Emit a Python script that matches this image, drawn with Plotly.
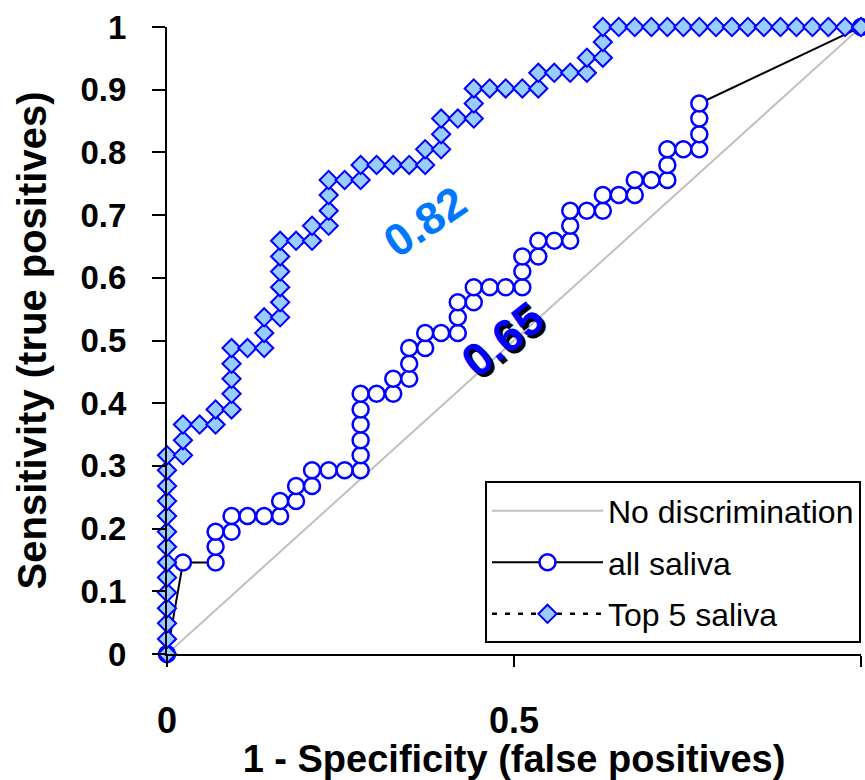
import plotly.graph_objects as go

# ---- data ----
diag_x = [0, 1]
diag_y = [0, 1]

all_fpr = [0.000, 0.023, 0.070, 0.070, 0.070, 0.093, 0.093, 0.116, 0.140, 0.163, 0.163,
           0.186, 0.186, 0.209, 0.209, 0.233, 0.256, 0.279, 0.279, 0.279, 0.279, 0.279,
           0.279, 0.302, 0.326, 0.326, 0.349, 0.349, 0.349, 0.372, 0.372, 0.395, 0.419,
           0.419, 0.419, 0.442, 0.442, 0.465, 0.488, 0.512, 0.512, 0.512, 0.535, 0.535,
           0.558, 0.581, 0.581, 0.581, 0.605, 0.628, 0.628, 0.651, 0.674, 0.674, 0.698,
           0.721, 0.721, 0.721, 0.744, 0.767, 0.767, 0.767, 0.767, 1.000]
all_tpr = [0.000, 0.146, 0.146, 0.171, 0.195, 0.195, 0.220, 0.220, 0.220, 0.220, 0.244,
           0.244, 0.268, 0.268, 0.293, 0.293, 0.293, 0.293, 0.317, 0.341, 0.366, 0.390,
           0.415, 0.415, 0.415, 0.439, 0.439, 0.463, 0.488, 0.488, 0.512, 0.512, 0.512,
           0.537, 0.561, 0.561, 0.585, 0.585, 0.585, 0.585, 0.610, 0.634, 0.634, 0.659,
           0.659, 0.659, 0.683, 0.707, 0.707, 0.707, 0.732, 0.732, 0.732, 0.756, 0.756,
           0.756, 0.780, 0.805, 0.805, 0.805, 0.829, 0.854, 0.878, 1.000]

top5_fpr = [0.000, 0.000, 0.000, 0.000, 0.000, 0.000, 0.000, 0.000, 0.000, 0.000, 0.000,
            0.000, 0.000, 0.000, 0.023, 0.023, 0.023, 0.047, 0.070, 0.070, 0.093, 0.093,
            0.093, 0.093, 0.093, 0.116, 0.140, 0.140, 0.140, 0.163, 0.163, 0.163, 0.163,
            0.163, 0.163, 0.186, 0.209, 0.209, 0.233, 0.233, 0.233, 0.233, 0.256, 0.279,
            0.279, 0.302, 0.326, 0.349, 0.372, 0.372, 0.395, 0.395, 0.395, 0.419, 0.442,
            0.442, 0.442, 0.465, 0.488, 0.512, 0.535, 0.535, 0.558, 0.581, 0.605, 0.605,
            0.628, 0.628, 0.628, 0.651, 0.674, 0.698, 0.721, 0.744, 0.767, 0.791, 0.814,
            0.837, 0.860, 0.884, 0.907, 0.930, 0.953, 0.977, 1.000]
top5_tpr = [0.000, 0.024, 0.049, 0.073, 0.098, 0.122, 0.146, 0.171, 0.195, 0.220, 0.244,
            0.268, 0.293, 0.317, 0.317, 0.341, 0.366, 0.366, 0.366, 0.390, 0.390, 0.415,
            0.439, 0.463, 0.488, 0.488, 0.488, 0.512, 0.537, 0.537, 0.561, 0.585, 0.610,
            0.634, 0.659, 0.659, 0.659, 0.683, 0.683, 0.707, 0.732, 0.756, 0.756, 0.756,
            0.780, 0.780, 0.780, 0.780, 0.780, 0.805, 0.805, 0.829, 0.854, 0.854, 0.854,
            0.878, 0.902, 0.902, 0.902, 0.902, 0.902, 0.927, 0.927, 0.927, 0.927, 0.951,
            0.951, 0.976, 1.000, 1.000, 1.000, 1.000, 1.000, 1.000, 1.000, 1.000, 1.000,
            1.000, 1.000, 1.000, 1.000, 1.000, 1.000, 1.000, 1.000]

x_tickvals = [0, 0.5, 1]
x_ticktext = ["0", "0.5", "1"]
y_tickvals = [0, 0.1, 0.2, 0.3, 0.4, 0.5, 0.6, 0.7, 0.8, 0.9, 1]
y_ticktext = ["0", "0.1", "0.2", "0.3", "0.4", "0.5", "0.6", "0.7", "0.8", "0.9", "1"]

auc_labels = ["0.82", "0.65"]
auc_pos_x = [0.372, 0.484]
auc_pos_y = [0.690, 0.502]

FONT = "Liberation Sans, Arial, sans-serif"

fig = go.Figure()
fig.add_trace(go.Scatter(
    x=diag_x, y=diag_y, mode="lines", name="No discrimination",
    line=dict(color="#C0C0C0", width=2), legendgroup="a"))
fig.add_trace(go.Scatter(
    x=all_fpr, y=all_tpr, mode="lines+markers", name="all saliva",
    line=dict(color="black", width=2),
    marker=dict(symbol="circle", size=16, color="white",
                line=dict(color="#0000FF", width=2.5)),
    cliponaxis=False, legendgroup="b"))
fig.add_trace(go.Scatter(
    x=top5_fpr, y=top5_tpr, mode="lines+markers", name="Top 5 saliva",
    line=dict(color="black", width=2.5, dash="5px,8px"),
    marker=dict(symbol="diamond", size=14, color="#99CCFF",
                line=dict(color="#0000FF", width=2)),
    cliponaxis=False, legendgroup="c"))

# AUC labels
fig.add_annotation(x=auc_pos_x[0], y=auc_pos_y[0], text="<b>" + auc_labels[0] + "</b>",
                   showarrow=False, textangle=-34,
                   font=dict(family=FONT, size=45, color="#0077FF"))
fig.add_annotation(x=auc_pos_x[1], y=auc_pos_y[1], text="<b>" + auc_labels[1] + "</b>",
                   showarrow=False, textangle=-38, xshift=3, yshift=-3,
                   font=dict(family=FONT, size=46, color="black"))
fig.add_annotation(x=auc_pos_x[1], y=auc_pos_y[1], text="<b>" + auc_labels[1] + "</b>",
                   showarrow=False, textangle=-38,
                   font=dict(family=FONT, size=46, color="#0000FF"))

fig.update_layout(
    width=865, height=780,
    margin=dict(l=167, r=4, t=27, b=126, pad=0),
    plot_bgcolor="white", paper_bgcolor="white",
    font=dict(family=FONT, color="black"),
    showlegend=True,
    legend=dict(x=1.0, xanchor="right", y=0.017, yanchor="bottom",
                bgcolor="white", bordercolor="black", borderwidth=2,
                font=dict(family=FONT, size=32, color="black"),
                traceorder="grouped", tracegroupgap=7, itemwidth=111),
    xaxis=dict(range=[0, 1], tickvals=x_tickvals, ticktext=x_ticktext,
               automargin=False,
               showline=True, linecolor="black", linewidth=2,
               ticks="outside", ticklen=11, tickwidth=2, tickcolor="black",
               showgrid=False, zeroline=False, ticklabelstandoff=23,
               tickfont=dict(family=FONT, size=36, color="black", weight="bold"),
               title=dict(text="<b>1 - Specificity (false positives)</b>",
                          font=dict(family=FONT, size=38, color="black"), standoff=13)),
    yaxis=dict(range=[0, 1], tickvals=y_tickvals, ticktext=y_ticktext,
               automargin=False,
               showline=True, linecolor="black", linewidth=2,
               ticks="outside", ticklen=13, tickwidth=2, tickcolor="black",
               showgrid=False, zeroline=False, ticklabelstandoff=19,
               tickfont=dict(family=FONT, size=33, color="black", weight="bold"),
               title=dict(text="<b>Sensitivity (true positives)</b>",
                          font=dict(family=FONT, size=40, color="black"), standoff=22)),
)

fig.write_html("out.html", config={"displayModeBar": False},
               post_script="document.body.style.margin='0';")
